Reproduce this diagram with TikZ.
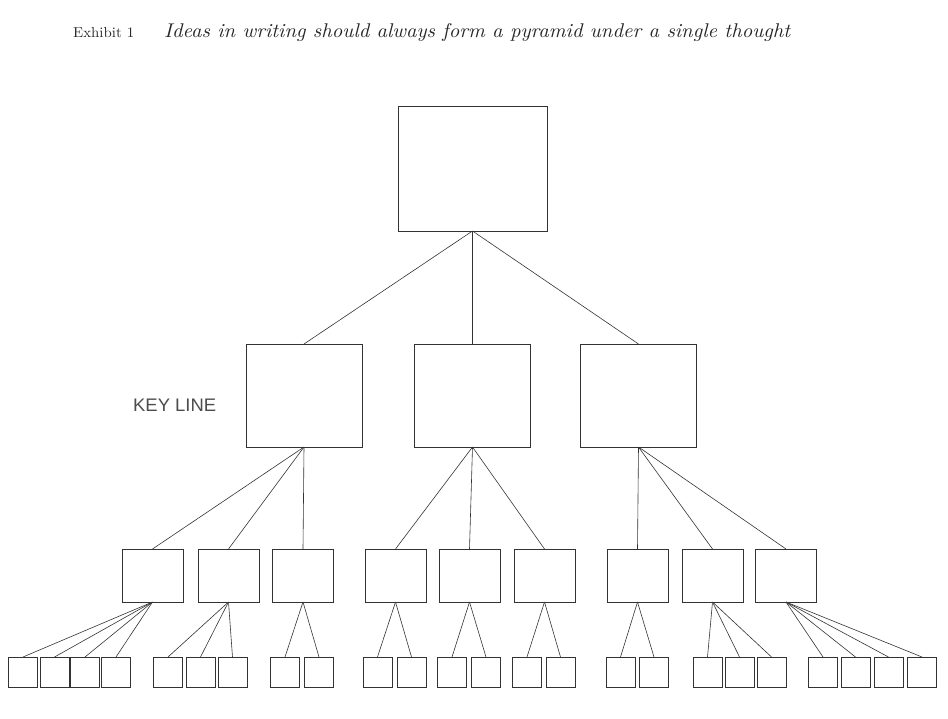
\documentclass[tikz,border=0pt]{standalone}
\usepackage{fontspec}
\newfontfamily\keyfont{Liberation Sans}
\begin{document}
\begin{tikzpicture}[x=1pt,y=-1pt,
  box/.style={draw=black!80, line width=0.7pt, inner sep=0pt, outer sep=0pt},
  topbox/.style={box, minimum width=149pt, minimum height=125pt},
  midbox/.style={box, minimum width=116pt, minimum height=103pt},
  smallbox/.style={box, minimum width=61pt, minimum height=53pt},
  leafbox/.style={box, minimum width=29pt, minimum height=30pt},
  link/.style={draw=black!80, line width=0.6pt},
  label/.style={inner sep=0pt, anchor=base west, text=black!85}]
\useasboundingbox (0,0) rectangle (948,718);

% title
\node[label] (exh) at (73,37) {\resizebox{61pt}{10pt}{Exhibit 1}};
\node[label] (ttl) at (164,37) {\resizebox{626pt}{14pt}{\itshape Ideas in writing should always form a pyramid under a single thought}};

% key line label
\node[label, text=black!70] (key) at (133,411) {\resizebox{83pt}{12.5pt}{\keyfont KEY LINE}};

% top
\node[topbox] (t) at (472.5,168.5) {};

% level 2
\node[midbox] (m1) at (304,395.5) {};
\node[midbox] (m2) at (472.5,395.5) {};
\node[midbox] (m3) at (638.5,395.5) {};

% level 3
\foreach \n/\x in {1/152.5,2/228.5,3/303,4/395.5,5/469.5,6/544.5,7/637.5,8/712.5,9/786}
  \node[smallbox] (s\n) at (\x,575.5) {};

% level 4
\foreach \n/\x in {a1/23,a2/54.5,a3/85,a4/116,
                   b1/168,b2/200.5,b3/232.5,
                   c1/285,c2/319,
                   d1/377.5,d2/411.5,
                   e1/452,e2/486,
                   f1/527,f2/560.5,
                   g1/620.5,g2/654,
                   h1/707.5,h2/739.5,h3/771.5,
                   i1/823,i2/855.5,i3/888.5,i4/922}
  \node[leafbox] (l\n) at (\x,672) {};

% connectors top -> level 2
\foreach \m in {m1,m2,m3}
  \draw[link] (t.south) -- (\m.north);

% level 2 -> level 3
\foreach \s in {s1,s2,s3} \draw[link] (m1.south) -- (\s.north);
\foreach \s in {s4,s5,s6} \draw[link] (m2.south) -- (\s.north);
\foreach \s in {s7,s8,s9} \draw[link] (m3.south) -- (\s.north);

% level 3 -> level 4
\foreach \l in {a1,a2,a3,a4} \draw[link] (s1.south) -- (l\l.north);
\foreach \l in {b1,b2,b3} \draw[link] (s2.south) -- (l\l.north);
\foreach \l in {c1,c2} \draw[link] (s3.south) -- (l\l.north);
\foreach \l in {d1,d2} \draw[link] (s4.south) -- (l\l.north);
\foreach \l in {e1,e2} \draw[link] (s5.south) -- (l\l.north);
\foreach \l in {f1,f2} \draw[link] (s6.south) -- (l\l.north);
\foreach \l in {g1,g2} \draw[link] (s7.south) -- (l\l.north);
\foreach \l in {h1,h2,h3} \draw[link] (s8.south) -- (l\l.north);
\foreach \l in {i1,i2,i3,i4} \draw[link] (s9.south) -- (l\l.north);
\end{tikzpicture}
\end{document}
